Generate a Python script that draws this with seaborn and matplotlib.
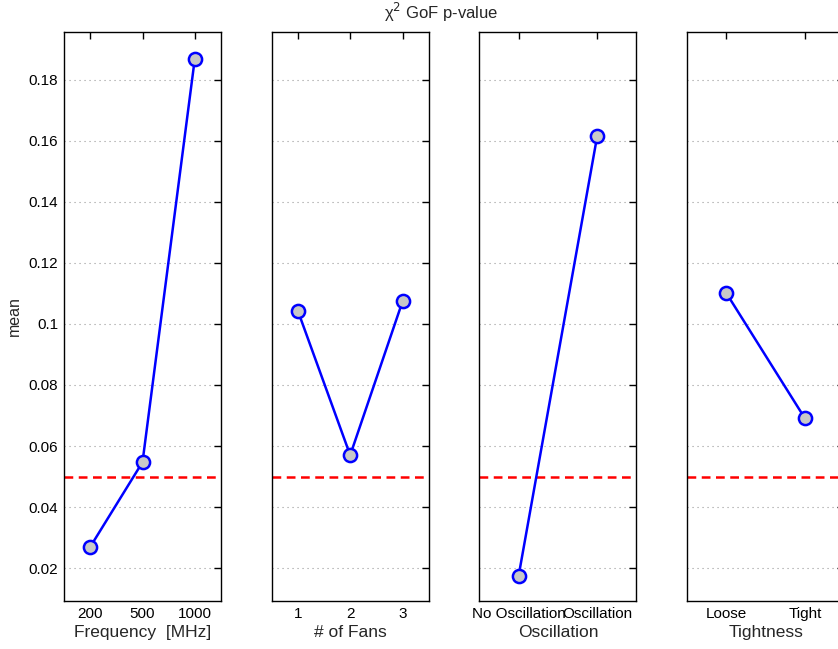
import numpy as np
import pandas as pd
import matplotlib
matplotlib.use("Agg")
import matplotlib.pyplot as plt
import seaborn as sns

# ---- data ----
freq_levels = ["200", "500", "1000"]
freq_means = [0.0269, 0.0547, 0.1870]
fans_levels = ["1", "2", "3"]
fans_means = [0.1043, 0.0570, 0.1074]
osc_levels = ["No Oscillation", "Oscillation"]
osc_means = [0.0175, 0.1615]
tight_levels = ["Loose", "Tight"]
tight_means = [0.1101, 0.0691]
factor_names = ["Frequency  [MHz]", "# of Fans", "Oscillation", "Tightness"]
threshold = 0.05
y_ticks = [0.02, 0.04, 0.06, 0.08, 0.1, 0.12, 0.14, 0.16, 0.18]
y_tick_labels = ["0.02", "0.04", "0.06", "0.08", "0.1", "0.12", "0.14", "0.16", "0.18"]

sns.set_style("white")
plt.rcParams["font.family"] = ["Liberation Sans", "DejaVu Sans"]

W, H = 838, 649
fig = plt.figure(figsize=(W / 100, H / 100), dpi=100)

panels = [(freq_levels, freq_means), (fans_levels, fans_means),
          (osc_levels, osc_means), (tight_levels, tight_means)]

left0, step, pw = 64, 207.7, 157
top, bot = 32, 601
for i, ((levels, means), name) in enumerate(zip(panels, factor_names)):
    ax = fig.add_axes([(left0 + step * i) / W, 1 - bot / H, pw / W, (bot - top) / H])
    df = pd.DataFrame({"level": levels, "mean": means})
    ax.axhline(threshold, color="red", linestyle=(0, (3.5, 2.2)), linewidth=1.8, zorder=2)
    sns.lineplot(data=df, x="level", y="mean", sort=False, ax=ax, color="blue",
                 linewidth=1.8, marker="o", markersize=9.5, markerfacecolor="#c8c8c8",
                 markeredgecolor="blue", markeredgewidth=1.8, zorder=3)
    ax.set_xlim(-0.5, len(levels) - 0.5)
    ax.set_ylim(0.0092, 0.1957)
    ax.set_yticks(y_ticks)
    ax.yaxis.grid(True, linestyle=(0, (1, 3.5)), color="#999999", linewidth=0.8)
    ax.xaxis.grid(False)
    if i == 0:
        ax.set_yticklabels(y_tick_labels)
        ax.set_ylabel("mean", fontsize=11.5, labelpad=5)
    else:
        ax.set_yticklabels([])
        ax.set_ylabel("")
    ax.set_xlabel(name, fontsize=12.5, labelpad=3)
    ax.tick_params(axis="both", which="both", direction="in", length=5, width=1,
                   top=True, right=True, labelsize=11, colors="black", pad=4)
    for sp in ax.spines.values():
        sp.set_visible(True)
        sp.set_color("black")
        sp.set_linewidth(1.0)

fig.text(441 / W, 1 - 12 / H, "χ$^2$ GoF p-value", ha="center", va="center", fontsize=12)

fig.savefig("out.png", dpi=100)
